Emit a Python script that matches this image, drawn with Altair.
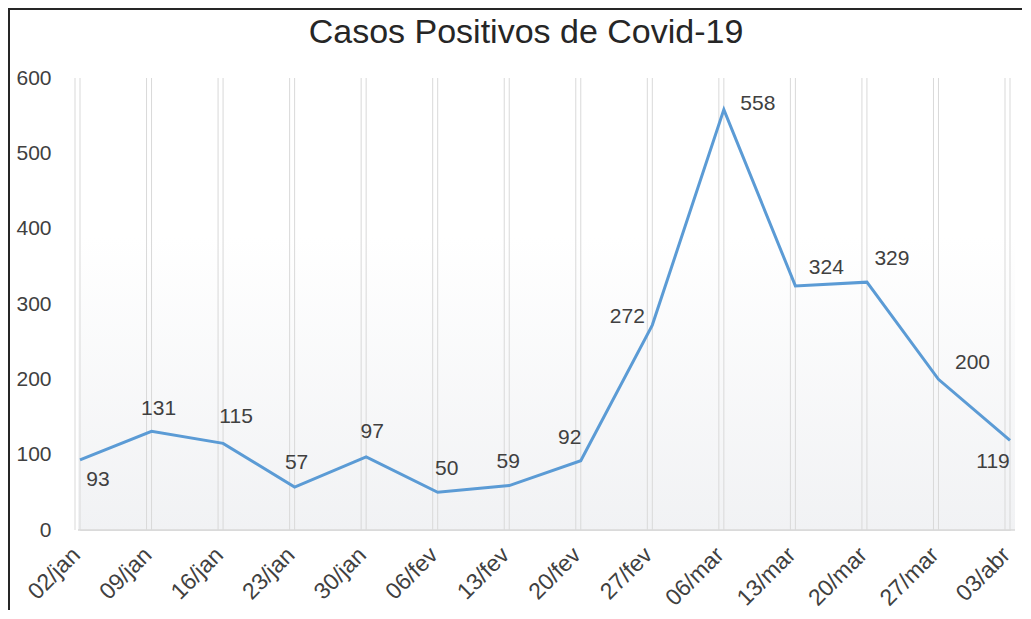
import altair as alt
import pandas as pd

dates = ["02/jan", "09/jan", "16/jan", "23/jan", "30/jan", "06/fev", "13/fev",
         "20/fev", "27/fev", "06/mar", "13/mar", "20/mar", "27/mar", "03/abr"]
cases = [93, 131, 115, 57, 97, 50, 59, 92, 272, 558, 324, 329, 200, 119]
y_ticks = [0, 100, 200, 300, 400, 500, 600]
title_text = "Casos Positivos de Covid-19"

df = pd.DataFrame({"date": dates, "cases": cases})
one = pd.DataFrame({"t": [title_text]})

W, H = 930, 452
FONT = "Liberation Sans"
TXT = "#404040"
GRID = "#d9d9d9"

x_enc = alt.X(
    "date:N", sort=dates,
    scale=alt.Scale(type="point", padding=0),
    axis=alt.Axis(title=None, labelAngle=-45, labelAlign="right", labelBaseline="middle",
                  labelFontSize=23, labelColor=TXT, labelFont=FONT, labelPadding=21,
                  labelOffset=-4, ticks=False, domain=False, grid=False, labelOverlap=False),
)
y_enc = alt.Y(
    "cases:Q", scale=alt.Scale(domain=[0, 600]),
    axis=alt.Axis(title=None, values=y_ticks, grid=False, domain=False, ticks=False,
                  labelPadding=29, labelFontSize=21, labelColor=TXT, labelFont=FONT),
)

bg = alt.Chart(one).mark_rect(
    fill=alt.LinearGradient(
        gradient="linear",
        stops=[alt.GradientStop(offset=0, color="#ffffff"),
               alt.GradientStop(offset=0.35, color="#ffffff"),
               alt.GradientStop(offset=1, color="#f1f2f4")],
        x1=0, x2=0, y1=0, y2=1,
    )
).encode(x=alt.value(-2), x2=alt.value(W + 5), y=alt.value(0), y2=alt.value(H))

grid1 = alt.Chart(df).mark_rule(color=GRID, strokeWidth=1).encode(x=x_enc)
grid2 = alt.Chart(df).mark_rule(color=GRID, strokeWidth=1, xOffset=-5).encode(x=x_enc)

baseline = alt.Chart(one).mark_rule(color=GRID, strokeWidth=1.5).encode(
    x=alt.value(-2), x2=alt.value(W + 5), y=alt.value(H))

border_top = alt.Chart(one).mark_rule(color="#262626", strokeWidth=2).encode(
    x=alt.value(-72), x2=alt.value(W + 40), y=alt.value(-69))
border_left = alt.Chart(one).mark_rule(color="#262626", strokeWidth=2).encode(
    x=alt.value(-71), y=alt.value(-70), y2=alt.value(H + 120))

title = alt.Chart(one).mark_text(
    fontSize=34, font=FONT, color="#262626", align="center", baseline="alphabetic"
).encode(x=alt.value(446), y=alt.value(-35), text="t:N")

line = alt.Chart(df).mark_line(color="#5B9BD5", strokeWidth=3).encode(x=x_enc, y=y_enc)

offsets = {
    "02/jan": (18, 20), "09/jan": (7, -22), "16/jan": (13, -26), "23/jan": (2, -24),
    "30/jan": (6, -25), "06/fev": (9, -23), "13/fev": (-1, -24), "20/fev": (-11, -23),
    "27/fev": (-25, -8), "06/mar": (34, -6), "13/mar": (31, -18), "20/mar": (25, -23),
    "27/mar": (34, -16), "03/abr": (-17, 22),
}
labels = []
for d, (ddx, ddy) in offsets.items():
    labels.append(
        alt.Chart(df).transform_filter(alt.datum.date == d).mark_text(
            dx=ddx, dy=ddy, fontSize=21, font=FONT, color=TXT, align="center", baseline="middle"
        ).encode(x=x_enc, y=y_enc, text="cases:Q")
    )

chart = alt.layer(bg, grid2, grid1, baseline, border_top, border_left, title, line,
                  *labels).properties(
    width=W, height=H,
    padding={"left": 72, "top": 70, "right": 12, "bottom": 80},
    autosize=alt.AutoSizeParams(type="none"),
).configure_view(stroke=None).configure(background="white")

chart.save("out.html", embed_options={"renderer": "svg", "actions": False})
